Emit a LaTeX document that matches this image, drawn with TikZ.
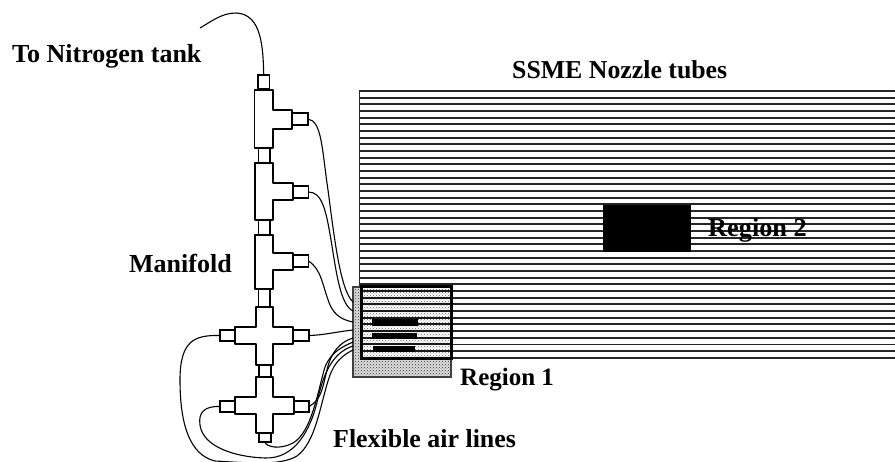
\documentclass[tikz,border=0pt]{standalone}
\usepackage{fontspec}
\setmainfont{Liberation Serif}
\usetikzlibrary{patterns}
\tikzset{
  fitbox/.style={draw=black,line width=1.2pt,fill=white,inner sep=0pt,outer sep=0pt,anchor=north west},
  fitting/.style={draw=black,line width=1.3pt,fill=white,line join=round},
  tube/.style={draw=black,line width=1.1pt},
  nozzle/.style={draw=black!85,line width=1.9pt},
  lab/.style={font=\bfseries\fontsize{#1}{28}\selectfont,anchor=base west,inner sep=0pt,text=black},
}
\newcommand{\fitbx}[5]{\node[fitbox,minimum width=#4pt,minimum height=#5pt] (#1) at (#2,#3) {};}
\begin{document}
\begin{tikzpicture}[x=1pt,y=-1pt]
\useasboundingbox (0,0) rectangle (895,462);
% nozzle tubes
\foreach \i in {0,...,40} {
  \pgfmathsetmacro{\yy}{91+6.67*\i}
  \draw[nozzle] (359,\yy) -- (895,\yy);
}
\draw[draw=black!85,line width=1.4pt] (359.5,91) -- (359.5,287);
\node[fill=black,inner sep=0pt,outer sep=0pt,anchor=north west,minimum width=88pt,minimum height=47pt] (r2) at (603,205) {};
% region 1
\node[fill=black!12,inner sep=0pt,outer sep=0pt,anchor=north west,minimum width=98pt,minimum height=90pt] (r1) at (353,287) {};
\fill[pattern=crosshatch dots,pattern color=black!85] (353,287) rectangle (451,377);
\draw[black!75,line width=1.2pt] (353,287) rectangle (451,377);
\fill[white] (361,287) rectangle (451,359);
\fill[pattern=crosshatch dots,pattern color=black!60] (361,287) rectangle (451,359);
\foreach \i in {30,...,40} {
  \pgfmathsetmacro{\yy}{91+6.67*\i}
  \draw[black!90,line width=2pt] (361,\yy) -- (451,\yy);
}
\fill[black] (372,319.5) rectangle (418,326);
\fill[black] (372,333) rectangle (417,339.5);
\fill[black] (373,346.5) rectangle (415,352.5);
\draw[black,line width=3pt] (361,287) rectangle (451,359);
% tube end points on region 1
\coordinate (e1) at (353,302);
\coordinate (e2) at (353,311);
\coordinate (e3) at (353,322);
\coordinate (e4) at (353,330);
\coordinate (e5) at (353,338);
\coordinate (e6) at (353,342);
\coordinate (e7) at (353,346);
\coordinate (e8) at (353,350);
\coordinate (tank) at (200,28);
% manifold connectors
\fitbx{c0}{258}{75}{11.5}{14}
\fitbx{s1}{292}{113}{16}{12}
\fitbx{v1}{258.5}{148}{11.5}{15}
\fitbx{s2}{293}{186}{15.5}{12}
\fitbx{v2}{258.5}{220}{11.5}{15}
\fitbx{s3}{293}{255}{15.5}{12}
\fitbx{v3}{258.5}{289}{11.5}{18}
\fitbx{l4}{220}{330}{15}{11}
\fitbx{s4}{293}{330}{16}{11}
\fitbx{v4}{259}{365}{12}{12}
\fitbx{l5}{220}{401}{15}{11}
\fitbx{s5}{294}{401}{15}{11}
\fitbx{b5}{259}{433}{12}{9}
% tees and crosses
\draw[fitting] (254.5,90) -- (273,90) -- (273,110) -- (292,110) -- (292,129) -- (273,129) -- (273,148) -- (254.5,148) -- cycle;
\draw[fitting] (255,163) -- (273,163) -- (273,183) -- (293,183) -- (293,200) -- (273,200) -- (273,220) -- (255,220) -- cycle;
\draw[fitting] (255,235) -- (273,235) -- (273,253) -- (293,253) -- (293,270) -- (273,270) -- (273,289) -- (255,289) -- cycle;
\draw[fitting] (256,307) -- (273,307) -- (273,327) -- (293,327) -- (293,344) -- (273,344) -- (273,365) -- (256,365) -- (256,344) -- (235,344) -- (235,327) -- (256,327) -- cycle;
\draw[fitting] (256,377) -- (273,377) -- (273,397) -- (294,397) -- (294,414) -- (273,414) -- (273,433) -- (256,433) -- (256,414) -- (235,414) -- (235,397) -- (256,397) -- cycle;
% flexible lines
\draw[tube] (c0.north) .. controls (263,48) and (262,14) .. (236,13) .. controls (222,13) and (212,21) .. (tank);
\draw[tube] (s1.east) .. controls (322,121) and (322,150) .. (328,190) .. controls (334,235) and (340,290) .. (e1);
\draw[tube] (s2.east) .. controls (322,192) and (326,210) .. (331,240) .. controls (336,270) and (340,305) .. (e2);
\draw[tube] (s3.east) .. controls (322,270) and (322,285) .. (330,305) .. controls (335,316) and (343,320) .. (e3);
\draw[tube] (s4.east) .. controls (325,335) and (335,332) .. (e4);
\draw[tube] (s5.east) .. controls (322,400) and (323,385) .. (327,370) .. controls (331,352) and (340,342) .. (e5);
\draw[tube] (b5.south) .. controls (266,447) and (280,450) .. (293,443) .. controls (312,432) and (318,390) .. (325,367) .. controls (331,352) and (342,347) .. (e6);
\draw[tube] (l5.west) .. controls (205,406) and (198,412) .. (200,425) .. controls (203,447) and (235,457) .. (265,458) .. controls (295,459) and (311,430) .. (318,398) .. controls (325,368) and (335,352) .. (e7);
\draw[tube] (l4.west) .. controls (195,335) and (180,340) .. (180,380) .. controls (180,425) and (190,455) .. (215,461) .. controls (250,463) and (280,466) .. (297,456) .. controls (316,442) and (320,405) .. (329,378) .. controls (334,362) and (343,355) .. (e8);
% labels
\node[lab=26] (t1) at (12,63) {To Nitrogen tank};
\node[lab=25.8] (t2) at (512,79) {SSME Nozzle tubes};
\node[lab=26] (t3) at (129,273) {Manifold};
\node[lab=26.3] (t4) at (708,237) {Region 2};
\node[lab=25] (t5) at (460,386) {Region 1};
\node[lab=25.9] (t6) at (333,447) {Flexible air lines};
\end{tikzpicture}
\end{document}
